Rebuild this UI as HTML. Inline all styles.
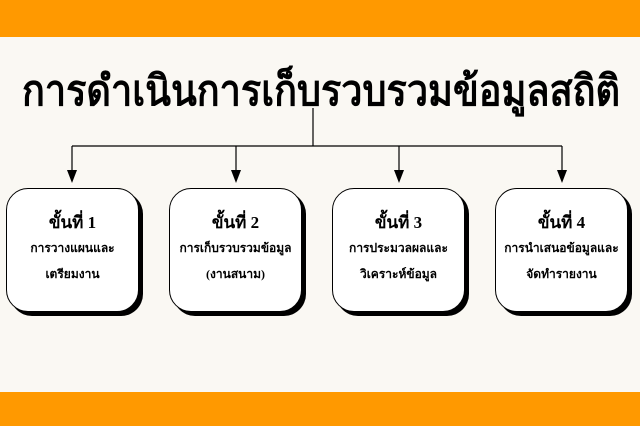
<!DOCTYPE html>
<html><head><meta charset="utf-8">
<style>
html,body{margin:0;padding:0}
body{width:640px;height:426px;background:#faf8f3;position:relative;overflow:hidden;font-family:"Liberation Serif","DejaVu Serif",serif}
.band{position:absolute;left:0;width:640px;background:#ff9900}
.title{position:absolute;left:-10px;top:64px;width:640px;text-align:center;font-size:42px;font-weight:bold;color:#000;line-height:56px;white-space:nowrap;transform:scaleX(0.9);transform-origin:320px 0}
.box{position:absolute;top:188px;width:131px;height:122px;border:1.5px solid #000;border-radius:22px;background:#fff;box-shadow:4px 4px 0 #000;text-align:center;font-weight:bold;color:#000}
.box .h{margin-top:22px;font-size:17px;line-height:24px}
.box .t{font-size:12px;line-height:26px}
</style></head><body>
<div class="band" style="top:0;height:37px"></div>
<div class="band" style="top:392px;height:34px"></div>
<div class="title">การดำเนินการเก็บรวบรวมข้อมูลสถิติ</div>
<svg width="640" height="426" style="position:absolute;left:0;top:0">
<g stroke="#000" stroke-width="1.2" fill="none">
<line x1="313" y1="108" x2="313" y2="146"/>
<line x1="72" y1="146" x2="562" y2="146"/>
<line x1="72" y1="146" x2="72" y2="172"/>
<line x1="236" y1="146" x2="236" y2="172"/>
<line x1="399" y1="146" x2="399" y2="172"/>
<line x1="562" y1="146" x2="562" y2="172"/>
</g>
<g fill="#000">
<polygon points="67,170 77,170 72,183"/>
<polygon points="231,170 241,170 236,183"/>
<polygon points="394,170 404,170 399,183"/>
<polygon points="557,170 567,170 562,183"/>
</g>
</svg>
<div class="box" style="left:6px"><div class="h">ขั้นที่ 1</div><div class="t">การวางแผนและ<br>เตรียมงาน</div></div>
<div class="box" style="left:169px"><div class="h">ขั้นที่ 2</div><div class="t">การเก็บรวบรวมข้อมูล<br>(งานสนาม)</div></div>
<div class="box" style="left:332px"><div class="h">ขั้นที่ 3</div><div class="t">การประมวลผลและ<br>วิเคราะห์ข้อมูล</div></div>
<div class="box" style="left:495px"><div class="h">ขั้นที่ 4</div><div class="t">การนำเสนอข้อมูลและ<br>จัดทำรายงาน</div></div>
</body></html>
